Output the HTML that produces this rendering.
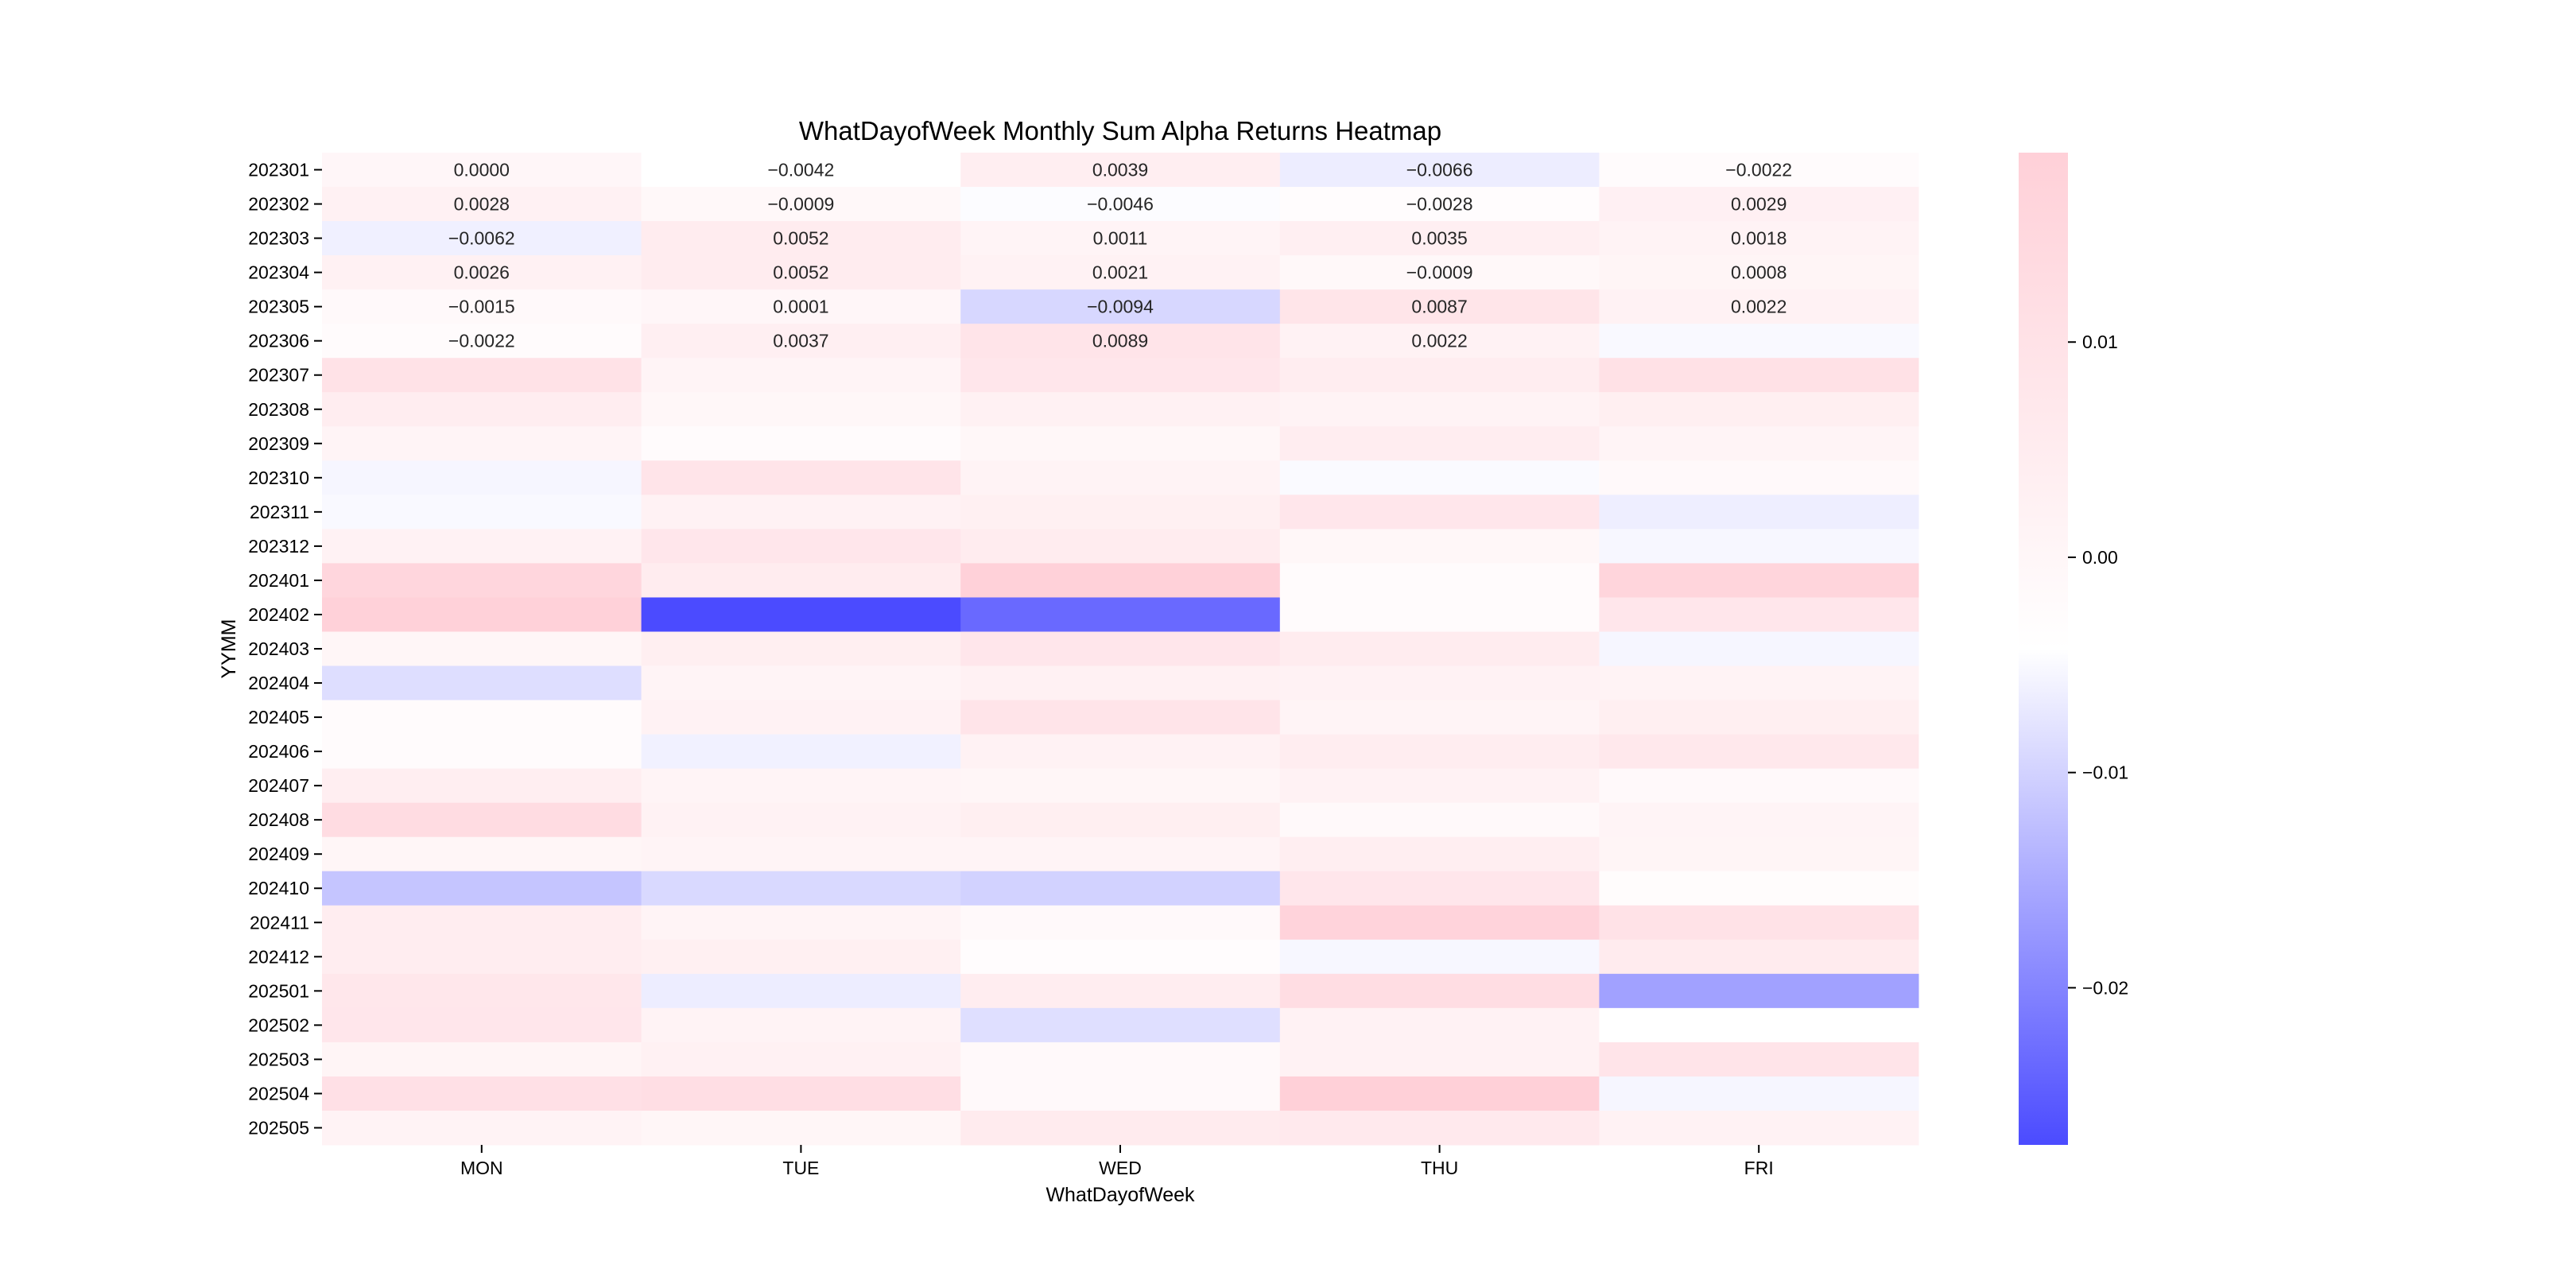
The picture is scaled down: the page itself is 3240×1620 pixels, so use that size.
<!DOCTYPE html>
<html><head><meta charset="utf-8">
<style>
html,body{margin:0;padding:0;background:#fff;}
svg{display:block;font-family:"Liberation Sans","Noto Sans CJK SC",sans-serif;}
</style></head>
<body>
<svg id="chart" width="3240" height="1620" xmlns="http://www.w3.org/2000/svg">
<text x="1409" y="176" font-size="33" text-anchor="middle" fill="#000">WhatDayofWeek Monthly Sum Alpha Returns Heatmap</text>
<g id="cells"></g>
<g id="yaxis"></g>
<g id="xaxis"></g>
<text transform="translate(296,816) rotate(-90)" font-size="25" text-anchor="middle">YYMM</text>
<text x="1409" y="1511" font-size="25" text-anchor="middle">WhatDayofWeek</text>
<defs><linearGradient id="cbgrad" x1="0" y1="1" x2="0" y2="0">
<stop offset="0" stop-color="rgb(75,75,255)"/><stop offset="0.5" stop-color="#fff"/><stop offset="1" stop-color="rgb(255,208,216)"/>
</linearGradient></defs>
<g id="cbar"></g>
</svg>
<script>
const days = ["MON","TUE","WED","THU","FRI"];
const months = ["202301","202302","202303","202304","202305","202306","202307","202308","202309","202310","202311","202312","202401","202402","202403","202404","202405","202406","202407","202408","202409","202410","202411","202412","202501","202502","202503","202504","202505"];
const monVals = [0.0000,0.0028,-0.0062,0.0026,-0.0015,-0.0022,0.0098,0.0048,0.0013,-0.0054,-0.0050,0.0023,0.0158,0.0183,0.0003,-0.0085,-0.0025,-0.0025,0.0043,0.0128,0.0003,-0.0117,0.0048,0.0048,0.0073,0.0078,0.0008,0.0108,0.0018];
const tueVals = [-0.0042,-0.0009,0.0052,0.0052,0.0001,0.0037,0.0013,-0.0002,-0.0025,0.0088,0.0023,0.0078,0.0053,-0.0273,0.0038,0.0013,0.0023,-0.0061,0.0013,0.0023,0.0013,-0.0091,0.0013,0.0033,-0.0065,0.0018,0.0028,0.0118,0.0003];
const wedVals = [0.0039,-0.0046,0.0011,0.0021,-0.0094,0.0089,0.0078,0.0028,-0.0002,0.0018,0.0033,0.0053,0.0183,-0.0235,0.0078,0.0028,0.0088,0.0023,0.0003,0.0038,0.0013,-0.0100,-0.0012,-0.0030,0.0048,-0.0084,-0.0012,-0.0012,0.0058];
const thuVals = [-0.0066,-0.0028,0.0035,-0.0009,0.0087,0.0022,0.0048,0.0018,0.0048,-0.0049,0.0078,-0.0002,-0.0025,-0.0025,0.0053,0.0023,0.0013,0.0048,0.0023,-0.0012,0.0043,0.0078,0.0173,-0.0053,0.0123,0.0023,0.0023,0.0188,0.0063];
const friVals = [-0.0022,0.0029,0.0018,0.0008,0.0022,-0.0050,0.0103,0.0038,0.0013,-0.0012,-0.0064,-0.0053,0.0163,0.0078,-0.0054,0.0018,0.0038,0.0068,-0.0012,0.0013,0.0008,-0.0027,0.0098,0.0058,-0.0163,-0.0042,0.0088,-0.0054,0.0023];
const annotatedCount = 29;
const cbTicks = [0.01,0.00,-0.01,-0.02];
const cbTickLabels = ["0.01","0.00","\u22120.01","\u22120.02"];

const series = [monVals,tueVals,wedVals,thuVals,friVals];
const NS = "http://www.w3.org/2000/svg";
const X0=405, X1=2413, Y0=192, Y1=1440;
const cw=(X1-X0)/days.length, rh=(Y1-Y0)/months.length;
const all=[].concat(...series);
const vmin=Math.min(...all), vmax=Math.max(...all), vmid=(vmin+vmax)/2;
function xPos(i){return X0+i*cw;}
function yPos(j){return Y0+j*rh;}
function color(v){
  if(v<=vmid){const t=(vmid-v)/(vmid-vmin);
    const c=Math.round(255-180*t);return `rgb(${c},${c},255)`;}
  const t=(v-vmid)/(vmax-vmid);
  return `rgb(255,${Math.round(255-47*t)},${Math.round(255-39*t)})`;
}
function mk(tag,attrs,parent){const e=document.createElementNS(NS,tag);for(const k in attrs)e.setAttribute(k,attrs[k]);parent.appendChild(e);return e;}
const cells=document.getElementById('cells');
series.forEach((vals,i)=>{
  vals.forEach((v,j)=>{
    const r=mk('rect',{x:xPos(i),y:yPos(j),width:cw+0.5,height:rh+0.5,fill:color(v)},cells);
    
    
    const idx=j*days.length+i;
    if(idx<annotatedCount){
      const t=mk('text',{x:xPos(i)+cw/2,y:yPos(j)+rh/2+8,'font-size':23,'text-anchor':'middle',fill:'#262626'},cells);
      t.textContent=(v<0?'\u2212':'')+Math.abs(v).toFixed(4);
      
      
    }
  });
});
const ya=document.getElementById('yaxis');
months.forEach((m,j)=>{
  const yc=yPos(j)+rh/2;
  const l=mk('line',{x1:X0-10,x2:X0,y1:yc,y2:yc,stroke:'#000','stroke-width':2},ya);
  
  
  const t=mk('text',{x:X0-16,y:yc+8,'font-size':23,'text-anchor':'end'},ya);
  t.textContent=m;
  
  
});
const xa=document.getElementById('xaxis');
days.forEach((d,i)=>{
  const xc=xPos(i)+cw/2;
  const l=mk('line',{x1:xc,x2:xc,y1:Y1,y2:Y1+10,stroke:'#000','stroke-width':2},xa);
  
  
  const t=mk('text',{x:xc,y:Y1+37,'font-size':23,'text-anchor':'middle'},xa);
  t.textContent=d;
  
  
});
const cb=document.getElementById('cbar');
const CX0=2539, CX1=2601;
function cbY(v){return Y0+(vmax-v)/(vmax-vmin)*(Y1-Y0);}
const cr=mk('rect',{x:CX0,y:Y0,width:CX1-CX0,height:Y1-Y0,fill:'url(#cbgrad)'},cb);


cbTicks.forEach((v,k)=>{
  const y=cbY(v);
  const l=mk('line',{x1:CX1,x2:CX1+10,y1:y,y2:y,stroke:'#000','stroke-width':2},cb);
  
  
  const t=mk('text',{x:CX1+18,y:y+8,'font-size':23},cb);
  t.textContent=cbTickLabels[k];
  
  
});
</script>
</body></html>
